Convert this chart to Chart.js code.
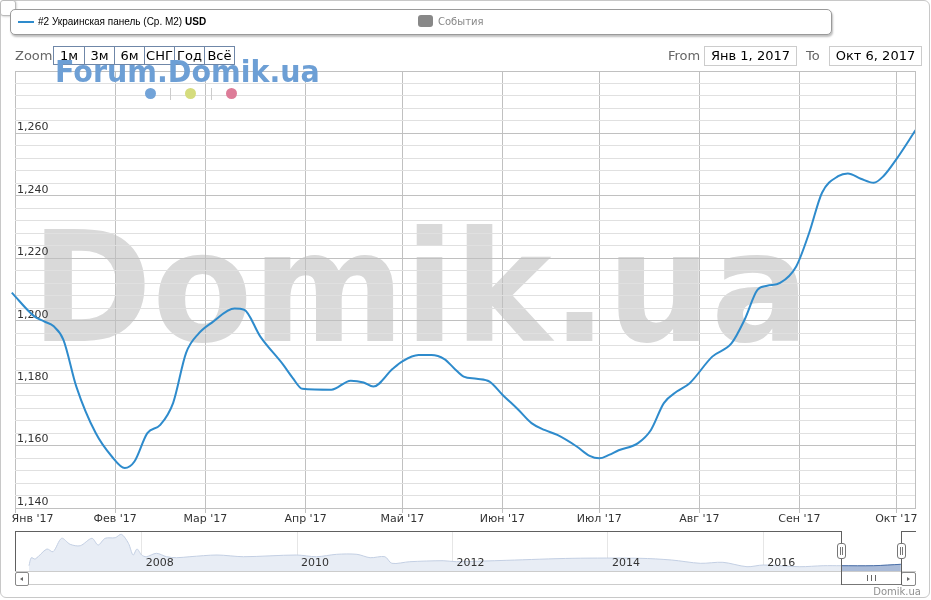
<!DOCTYPE html>
<html>
<head>
<meta charset="utf-8">
<script src="https://cdn.jsdelivr.net/npm/chart.js@4.4.1/dist/chart.umd.min.js"></script>
<style>
  body { margin: 0; background: #fff; font-family: "DejaVu Sans", sans-serif; }
  #wrap { position: relative; width: 931px; height: 600px; overflow: hidden; }
  .abs { position: absolute; }
  #frame { left: 0; top: 0; width: 928px; height: 596px; border: 1px solid #c8c8c8; border-radius: 6px; }
  #corner { left: 0; top: 0; width: 14px; height: 14px; border: 1px solid #bbb; border-radius: 3px; background: #fff; box-shadow: 1px 1px 2px rgba(0,0,0,0.15); }
  #mark { left: 31px; top: 212px; font-size: 153px; line-height: 153px; font-weight: bold; color: #d9d9d9; white-space: nowrap; transform: scaleX(0.954); transform-origin: left top; }
  canvas { position: absolute; left: 0; }
  #legend { left: 10px; top: 9px; width: 820px; height: 24px; border: 1px solid #9a9a9a; border-radius: 5px; background: #fff; box-shadow: 1px 2px 2px rgba(0,0,0,0.25); }
  .txt10 { font-size: 10px; line-height: 12px; white-space: nowrap; }
  .txt13 { font-size: 13px; line-height: 16px; white-space: nowrap; }
  #btns { left: 53px; top: 46px; display: flex; border: 1px solid #6f87a8; }
  #btns div { width: 29px; height: 17px; line-height: 17px; text-align: center; font-size: 13px; color: #000; border-left: 1px solid #6f87a8; }
  #btns div:first-child { border-left: none; width: 30px; }
  .datebox { top: 46px; height: 18px; border: 1px solid #ccc; font-size: 13px; line-height: 18px; text-align: center; color: #000; }
  #forum { left: 55px; top: 57px; font-size: 30px; line-height: 30px; font-weight: bold; color: #6d9fd5; white-space: nowrap; transform: scaleX(0.95); transform-origin: left top; }
  .dot { width: 11px; height: 11px; border-radius: 50%; top: 88px; }
  .sep { width: 1px; height: 12px; top: 88px; background: #ccc; }
  .ol { background: #606060; }
  .handle { width: 7px; height: 14px; top: 543px; border: 1px solid #777; border-radius: 3px; background: #fff; }
  .handle i { position: absolute; top: 3px; width: 1px; height: 8px; background: #777; }
  .sbtn { top: 572px; height: 12px; border: 1px solid #888; border-radius: 2px; background: #fff; }
</style>
</head>
<body>
<div id="wrap">
  <div id="frame" class="abs"></div>
  <div id="mark" class="abs">Domik.ua</div>
  <canvas id="main" width="931" height="530" style="top:0"></canvas>
  <canvas id="nav" width="931" height="50" style="top:525px"></canvas>

  <div id="corner" class="abs"></div>
  <div id="legend" class="abs"></div>
  <div class="abs" style="left:18px;top:21px;width:16px;height:2px;background:#2e8bcc"></div>
  <div class="abs txt10" style="left:38px;top:16px;color:#000;font-family:'Liberation Sans',Arial,sans-serif">#2 Украинская панель (Ср. М2) <b>USD</b></div>
  <div class="abs" style="left:418px;top:15px;width:15px;height:12px;border-radius:3px;background:#888"></div>
  <div class="abs txt10" style="left:438px;top:16px;color:#888">События</div>

  <div class="abs txt13" style="left:15px;top:48px;color:#666">Zoom</div>
  <div id="btns" class="abs"><div>1м</div><div>3м</div><div>6м</div><div>СНГ</div><div>Год</div><div>Всё</div></div>
  <div class="abs txt13" style="left:668px;top:48px;color:#666">From</div>
  <div class="abs datebox" style="left:704px;width:91px">Янв 1, 2017</div>
  <div class="abs txt13" style="left:806px;top:48px;color:#666">To</div>
  <div class="abs datebox" style="left:829px;width:91px">Окт 6, 2017</div>

  <div id="forum" class="abs">Forum.Domik.ua</div>
  <div class="abs dot" style="left:145px;background:#72a3d8"></div>
  <div class="abs sep" style="left:170px"></div>
  <div class="abs dot" style="left:185px;background:#d5dc7d"></div>
  <div class="abs sep" style="left:211px"></div>
  <div class="abs dot" style="left:226px;background:#dd7c98"></div>

  <div id="navui"></div>
  <div class="abs txt10" style="right:10px;top:586px;color:#909090">Domik.ua</div>
</div>

<script>
// price, USD per m2, 2017
const priceDates = [
  '2016-12-31', '2017-01-07', '2017-01-10', '2017-01-13', '2017-01-16', '2017-01-20', '2017-01-26', '2017-01-31',
  '2017-02-04', '2017-02-07', '2017-02-11', '2017-02-15', '2017-02-19', '2017-02-23', '2017-02-27',
  '2017-03-03', '2017-03-10', '2017-03-13', '2017-03-18', '2017-03-25', '2017-03-28', '2017-03-31',
  '2017-04-09', '2017-04-15', '2017-04-19', '2017-04-22', '2017-04-28',
  '2017-05-01', '2017-05-06', '2017-05-10', '2017-05-14', '2017-05-17', '2017-05-20', '2017-05-24', '2017-05-28',
  '2017-06-01', '2017-06-06', '2017-06-10', '2017-06-14', '2017-06-18', '2017-06-24', '2017-06-28',
  '2017-07-01', '2017-07-04', '2017-07-07', '2017-07-13', '2017-07-17', '2017-07-21', '2017-07-25', '2017-07-29',
  '2017-08-05', '2017-08-11', '2017-08-15', '2017-08-19', '2017-08-22', '2017-08-26', '2017-08-31',
  '2017-09-04', '2017-09-08', '2017-09-13', '2017-09-16', '2017-09-20', '2017-09-24', '2017-09-27',
  '2017-10-01', '2017-10-07'
];
const prices = [
  1209.0, 1201.4, 1199.8, 1198.2, 1193.9, 1178.9, 1164.0, 1156.5,
  1152.8, 1154.9, 1164.0, 1166.6, 1173.7, 1189.7, 1196.0,
  1199.4, 1203.9, 1203.5, 1194.9, 1186.0, 1181.7, 1178.2,
  1177.9, 1180.8, 1180.2, 1178.9, 1184.6,
  1187.0, 1189.0, 1189.0, 1187.7, 1184.8, 1182.1, 1181.4, 1180.5,
  1176.3, 1171.4, 1167.2, 1165.0, 1163.4, 1159.7, 1156.7,
  1155.9, 1157.0, 1158.5, 1160.8, 1165.0, 1173.6, 1177.3, 1180.0,
  1188.5, 1192.8, 1200.3, 1209.9, 1211.2, 1212.1, 1217.4,
  1228.1, 1241.0, 1246.3, 1247.2, 1245.5, 1244.2, 1246.3,
  1251.7, 1261.1
];
const monthStarts = ['2017-01-01', '2017-02-01', '2017-03-01', '2017-04-01', '2017-05-01',
  '2017-06-01', '2017-07-01', '2017-08-01', '2017-09-01', '2017-10-01'];
const monthLabels = ["Янв '17", "Фев '17", "Мар '17", "Апр '17", "Май '17",
  "Июн '17", "Июл '17", "Авг '17", "Сен '17", "Окт '17"];
const rangeStart = '2017-01-01';
const rangeEnd = '2017-10-06';
const yMin = 1140, yMax = 1280, yStep = 4, yLabelStep = 20;

// navigator: whole history (years as decimals)
const navYears = [2006.55, 2006.58, 2006.63, 2006.78, 2006.86, 2006.97, 2007.08, 2007.21, 2007.36, 2007.44,
  2007.53, 2007.66, 2007.74, 2007.83, 2007.89, 2007.94, 2008.00, 2008.06, 2008.19, 2008.32, 2008.45,
  2008.62, 2008.97, 2009.31, 2009.99, 2010.25, 2010.51, 2010.77, 2010.94, 2011.13, 2011.22, 2011.45,
  2011.88, 2012.05, 2012.70, 2013.55, 2014.41, 2014.82, 2015.19, 2015.48, 2015.79, 2016.00, 2016.47,
  2016.77, 2017.00, 2017.42, 2017.77];
const navValues = [1212, 1532, 1480, 1880, 1772, 2308, 2068, 2012, 2308, 2040,
  2308, 2332, 2468, 2108, 1640, 1880, 1640, 1572, 1708, 1572, 1532,
  1572, 1640, 1572, 1640, 1572, 1668, 1668, 1532, 1572, 1308, 1372,
  1412, 1372, 1428, 1508, 1508, 1440, 1308, 1348, 1172, 1240, 1172,
  1212, 1212, 1212, 1268];
const navTicks = [2008, 2010, 2012, 2014, 2016];
const navStart = 2006.37, navEnd = 2017.965;
const selStart = 2017.0, selEnd = 2017.77;

Chart.defaults.font.family = 'DejaVu Sans';

function dayOf(s) {
  return (Date.parse(s) - Date.parse(rangeStart)) / 864e5;
}

const mainChart = new Chart(document.getElementById('main'), {
  type: 'line',
  data: {
    datasets: [{
      data: priceDates.map((d, i) => ({ x: dayOf(d), y: prices[i] })),
      borderColor: '#2e8bcc',
      borderWidth: 2,
      pointRadius: 0,
      cubicInterpolationMode: 'monotone',
      fill: false,
      clip: { left: 5, top: 0, right: 0, bottom: 0 }
    }]
  },
  options: {
    responsive: false,
    animation: false,
    events: [],
    layout: { padding: { left: 15, right: 16, top: 71, bottom: 0 } },
    plugins: { legend: { display: false }, tooltip: { enabled: false } },
    scales: {
      x: {
        type: 'linear',
        min: 0,
        max: dayOf(rangeEnd) + 0.8, // range ends late on Oct 6
        afterBuildTicks: s => { s.ticks = monthStarts.map(d => ({ value: dayOf(d) })); },
        afterFit: s => { s.height = 22; s.paddingLeft = 0; s.paddingRight = 0; },
        grid: { color: '#c0c0c0', tickLength: 5 },
        border: { display: false },
        ticks: {
          autoSkip: false, maxRotation: 0, padding: 0, color: '#333', font: { size: 11 },
          // first label is pushed right so it stays inside the frame
          callback: (v, i) => i === 0 ? '\u00a0'.repeat(10) + monthLabels[0] : monthLabels[i]
        }
      },
      y: {
        min: yMin, max: yMax,
        afterFit: s => { s.width = 0; },
        grid: {
          color: c => c.tick.value % yLabelStep === 0 ? '#c0c0c0' : '#e0e0e0',
          drawTicks: false
        },
        border: { display: false },
        ticks: {
          stepSize: yStep, maxTicksLimit: 100, autoSkip: false,
          mirror: true, padding: 2, labelOffset: -6,
          color: '#333', font: { size: 11 },
          callback: v => (v % yLabelStep === 0 && v < yMax) ? v.toLocaleString('en-US') : ''
        }
      },
      yRight: {
        position: 'right', min: yMin, max: yMax,
        afterFit: s => { s.width = 0; },
        grid: { display: false },
        border: { display: true, color: '#c0c0c0' },
        ticks: { display: false }
      }
    }
  }
});

const allNav = navYears.map((x, i) => ({ x: x, y: navValues[i] }));
const navChart = new Chart(document.getElementById('nav'), {
  type: 'line',
  data: {
    datasets: [{
      data: allNav.filter(p => p.x >= selStart && p.x <= selEnd),
      borderColor: '#4a6fa8', backgroundColor: '#aabbd8',
      borderWidth: 1, fill: 'start', pointRadius: 0, tension: 0.3
    }, {
      data: allNav,
      borderColor: '#c3cfe3', backgroundColor: '#e8edf5',
      borderWidth: 1, fill: 'start', pointRadius: 0, tension: 0.3
    }]
  },
  options: {
    responsive: false,
    animation: false,
    events: [],
    layout: { padding: { left: 15, right: 15, top: 6, bottom: 4 } },
    plugins: { legend: { display: false }, tooltip: { enabled: false } },
    scales: {
      x: {
        type: 'linear', min: navStart, max: navEnd,
        afterBuildTicks: s => { s.ticks = navTicks.map(v => ({ value: v })); },
        afterFit: s => { s.height = 0; s.paddingLeft = 0; s.paddingRight = 0; },
        grid: { color: '#e6e6e6', drawTicks: false },
        border: { display: false },
        ticks: {
          z: 1, // labels sit on top of the area fill
          // mirror keeps the labels from being clipped to the (empty) axis box
          mirror: true,
          autoSkip: false, maxRotation: 0, align: 'start', labelOffset: 4, padding: 1,
          color: '#333', font: { size: 11 }, callback: v => String(v)
        }
      },
      y: { display: false, min: 1000, max: 2600 }
    }
  }
});

// navigator outline, handles and scrollbar follow the navigator scale
function box(style, cls) {
  const el = document.createElement('div');
  el.className = 'abs ' + (cls || '');
  el.style.cssText = style;
  document.getElementById('navui').appendChild(el);
  return el;
}
(function drawNavUi() {
  const sx = navChart.scales.x;
  const area = navChart.chartArea;
  const top = 525 + area.top, bottom = 525 + area.bottom;
  const l = Math.round(sx.getPixelForValue(selStart));
  const r = Math.round(sx.getPixelForValue(selEnd));
  const left = Math.round(area.left), right = Math.round(area.right);

  // scrollbar track
  box(`left:${left}px;top:${bottom}px;width:${right - left}px;height:14px;border-top:1px solid #ccc;border-bottom:1px solid #ccc;background:#fff;box-sizing:border-box`);
  box(`left:${left}px;width:12px;`, 'sbtn').innerHTML = '<div style="position:absolute;left:4px;top:4px;width:0;height:0;border-top:2px solid transparent;border-bottom:2px solid transparent;border-right:3px solid #666"></div>';
  box(`left:${r}px;width:13px;`, 'sbtn').innerHTML = '<div style="position:absolute;left:5px;top:4px;width:0;height:0;border-top:2px solid transparent;border-bottom:2px solid transparent;border-left:3px solid #666"></div>';
  box(`left:${l}px;top:${bottom + 13}px;width:${r - l}px;height:1px;background:#777`);
  box(`left:${Math.round((l + r) / 2) - 4}px;top:${bottom + 4}px;width:9px;height:6px;border-left:1px solid #666;border-right:1px solid #666;box-sizing:border-box`);
  box(`left:${Math.round((l + r) / 2)}px;top:${bottom + 4}px;width:1px;height:6px;background:#666`);

  // outline
  box(`left:${left}px;top:${top}px;width:${l - left}px;height:1px`, 'ol');
  box(`left:${left}px;top:${top}px;width:1px;height:${bottom - top}px`, 'ol');
  box(`left:${l}px;top:${top}px;width:1px;height:${bottom - top + 14}px`, 'ol');
  box(`left:${r}px;top:${top}px;width:1px;height:${bottom - top + 14}px`, 'ol');
  box(`left:${r}px;top:${top}px;width:${right - r}px;height:1px`, 'ol');

  // handles
  [l, r].forEach(px => {
    box(`left:${px - 4}px;`, 'handle').innerHTML = '<i style="left:2px"></i><i style="left:4px"></i>';
  });
})();
</script>
</body>
</html>
